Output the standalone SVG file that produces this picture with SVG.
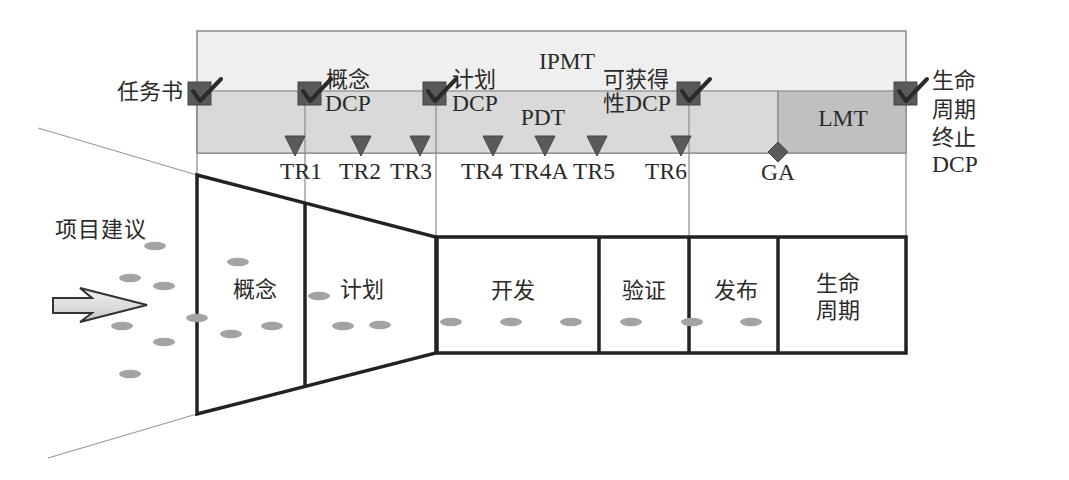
<svg xmlns="http://www.w3.org/2000/svg" width="1069" height="480" viewBox="0 0 1069 480">
<defs>
<style>
.t{font-family:"Liberation Serif","Noto Sans CJK SC",serif;font-size:22px;fill:#2a2a2a}
.l{font-size:23.5px}
.c{text-anchor:middle}
.thin{stroke:#8a8a8a;stroke-width:1.2;fill:none}
.thick{stroke:#222;stroke-width:3.5;fill:none;stroke-linejoin:miter}
.tri{fill:#5a5a5a;stroke:#444;stroke-width:1}
.dot{fill:#a3a3a3}
.sq{fill:#595959;stroke:#444;stroke-width:1}
.chk{fill:none;stroke:#2a2a2a;stroke-width:4;stroke-linecap:round;stroke-linejoin:round}
</style>
<linearGradient id="ag" x1="0" y1="0" x2="0" y2="1">
<stop offset="0" stop-color="#f2f2f2"/>
<stop offset="1" stop-color="#c8c8c8"/>
</linearGradient>
<g id="check">
<rect class="sq" x="-11" y="-12" width="23" height="23"/>
<path class="chk" d="M-6,-3 L1,7 L22,-15"/>
</g>
<polygon id="tr" class="tri" points="-10,-10 10,-10 0,10"/>
<ellipse id="dt" class="dot" rx="11" ry="4.2"/>
</defs>
<rect width="1069" height="480" fill="#ffffff"/>

<g id="ipmt">
<rect x="197" y="31" width="709" height="122" fill="#efefef" stroke="#8a8a8a" stroke-width="1.5"/>
<text class="t l c" x="567" y="69">IPMT</text>
</g>
<g id="pdt">
<rect x="197" y="91" width="581" height="62" fill="#d9d9d9" stroke="#8a8a8a" stroke-width="1.2"/>
<text class="t l c" x="543" y="125">PDT</text>
</g>
<g id="lmt">
<rect x="778" y="91" width="128" height="62" fill="#c0c0c0" stroke="#8a8a8a" stroke-width="1.2"/>
<text class="t l c" x="843" y="126">LMT</text>
</g>

<g id="connectors">
<line class="thin" x1="197" y1="91" x2="197" y2="176"/>
<line class="thin" x1="305" y1="91" x2="305" y2="204"/>
<line class="thin" x1="436" y1="91" x2="436" y2="237"/>
<line class="thin" x1="689" y1="91" x2="689" y2="237"/>
<line class="thin" x1="906" y1="153" x2="906" y2="237"/>
<line x1="38" y1="128" x2="197" y2="175" stroke="#999" stroke-width="1.2"/>
<line x1="48" y1="458" x2="197" y2="414" stroke="#999" stroke-width="1.2"/>
</g>

<g id="funnel">
<polygon class="thick" points="197,175 436,237 436,353 197,414"/>
<line class="thick" x1="305" y1="203" x2="305" y2="387"/>
<text class="t c" x="255" y="297">概念</text>
<text class="t c" x="362" y="297">计划</text>
</g>

<g id="phases">
<rect class="thick" x="437" y="237" width="469" height="116"/>
<line class="thick" x1="599" y1="237" x2="599" y2="353"/>
<line class="thick" x1="689" y1="237" x2="689" y2="353"/>
<line class="thick" x1="778" y1="237" x2="778" y2="353"/>
<text class="t c" x="513" y="298">开发</text>
<text class="t c" x="644" y="298">验证</text>
<text class="t c" x="736" y="298">发布</text>
<text class="t c" x="838" y="291">生命</text>
<text class="t c" x="838" y="318">周期</text>
</g>

<g id="dcp-task">
<use href="#check" x="199" y="94"/>
<text class="t" x="183" y="99" text-anchor="end">任务书</text>
</g>
<g id="dcp-concept">
<use href="#check" x="309" y="94"/>
<text class="t" x="326" y="87">概念</text>
<text class="t l" x="325" y="111">DCP</text>
</g>
<g id="dcp-plan">
<use href="#check" x="434" y="94"/>
<text class="t" x="452" y="87">计划</text>
<text class="t l" x="452" y="111">DCP</text>
</g>
<g id="dcp-avail">
<use href="#check" x="688" y="94"/>
<text class="t" x="603" y="87">可获得</text>
<text class="t" x="603" y="111">性<tspan class="l">DCP</tspan></text>
</g>
<g id="dcp-eol">
<use href="#check" x="905" y="94"/>
<text class="t" x="932" y="88">生命</text>
<text class="t" x="932" y="117">周期</text>
<text class="t" x="932" y="145">终止</text>
<text class="t l" x="932" y="172">DCP</text>
</g>

<g id="tr1"><use href="#tr" x="295" y="146"/><text class="t l c" x="301" y="179">TR1</text></g>
<g id="tr2"><use href="#tr" x="361" y="146"/><text class="t l c" x="360" y="179">TR2</text></g>
<g id="tr3"><use href="#tr" x="420" y="146"/><text class="t l c" x="411" y="179">TR3</text></g>
<g id="tr4"><use href="#tr" x="493" y="146"/><text class="t l c" x="482" y="179">TR4</text></g>
<g id="tr4a"><use href="#tr" x="545" y="146"/><text class="t l c" x="539" y="179">TR4A</text></g>
<g id="tr5"><use href="#tr" x="597" y="146"/><text class="t l c" x="594" y="179">TR5</text></g>
<g id="tr6"><use href="#tr" x="681" y="146"/><text class="t l c" x="666" y="179">TR6</text></g>
<g id="ga">
<polygon points="778,142 788,152 778,162 768,152" fill="#5a5a5a" stroke="#444" stroke-width="1"/>
<text class="t l c" x="778" y="180">GA</text>
</g>

<g id="proposal">
<text class="t" x="55" y="237" style="letter-spacing:1px">项目建议</text>
<path d="M53,298 H92 L80,288 L147,305 L80,322 L92,313 H53 Z" fill="url(#ag)" stroke="#333" stroke-width="2" stroke-linejoin="miter"/>
</g>

<g id="dots">
<use href="#dt" x="155" y="246"/>
<use href="#dt" x="130" y="278"/>
<use href="#dt" x="164" y="286"/>
<use href="#dt" x="122" y="326"/>
<use href="#dt" x="164" y="342"/>
<use href="#dt" x="130" y="374"/>
<use href="#dt" x="197" y="318"/>
<use href="#dt" x="238" y="262"/>
<use href="#dt" x="231" y="334"/>
<use href="#dt" x="272" y="326"/>
<use href="#dt" x="319" y="296"/>
<use href="#dt" x="343" y="326"/>
<use href="#dt" x="380" y="325"/>
<use href="#dt" x="451" y="322"/>
<use href="#dt" x="511" y="322"/>
<use href="#dt" x="571" y="322"/>
<use href="#dt" x="631" y="322"/>
<use href="#dt" x="692" y="322"/>
<use href="#dt" x="751" y="322"/>
</g>
</svg>
